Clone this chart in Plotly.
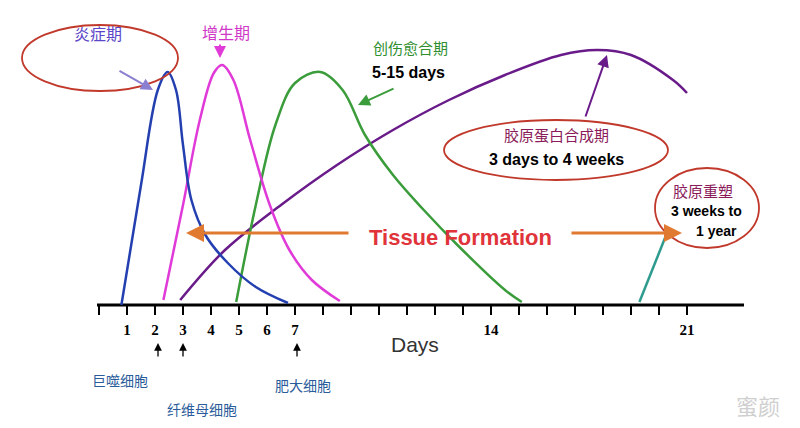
import plotly.graph_objects as go

PX = 28.0; X0 = 99; AX = 305
def dx(p): return (p - X0) / PX
def hy(p): return AX - p

tick_days = list(range(0, 22))
tick_labels = ["1", "2", "3", "4", "5", "6", "7", "14", "21"]
tick_label_days = [1, 2, 3, 4, 5, 6, 7, 14, 21]

# curves (day, height above axis)
blue_x = [0.8, 1.5, 2.1, 2.45, 2.75, 3.0, 3.3, 3.8, 4.6, 5.6, 6.75]
blue_y = [0, 120, 215, 233, 215, 160, 105, 70, 42, 18, 2]
mag_x = [2.3, 3.0, 3.6, 4.1, 4.4, 4.8, 5.4, 6.1, 6.8, 7.6, 8.6]
mag_y = [5, 100, 185, 232, 240, 225, 165, 100, 55, 25, 4]
grn_x = [4.9, 5.6, 6.3, 7.0, 7.9, 8.7, 9.5, 10.5, 11.6, 12.8, 14.5, 15.1]
grn_y = [3, 100, 180, 222, 233, 215, 170, 130, 95, 60, 15, 3]
pur_x = [2.9, 4.5, 6.5, 8.5, 10.5, 12.5, 14.5, 16.5, 17.8, 19.0, 20.5, 21.0]
pur_y = [5, 55, 100, 140, 175, 205, 230, 250, 255, 250, 225, 212]
teal_x = [19.3, 20.3]
teal_y = [3, 73]

fig = go.Figure()
fig.add_trace(go.Scatter(x=[dx(97), dx(744)], y=[0, 0], mode="lines",
                         line=dict(color="black", width=3), hoverinfo="skip"))
for d in tick_days:
    fig.add_shape(type="line", x0=d, x1=d, y0=0, y1=-10, line=dict(color="black", width=2))
fig.add_trace(go.Scatter(x=tick_label_days, y=[-26]*len(tick_labels), mode="text",
                         text=["<b>%s</b>" % t for t in tick_labels],
                         textfont=dict(family="Liberation Serif", size=15, color="black"), hoverinfo="skip"))

for xs, ys, c in [(teal_x, teal_y, "#2e9b8f"), (pur_x, pur_y, "#6a1b8a"), (grn_x, grn_y, "#3a9c3a"),
                  (mag_x, mag_y, "#e03ad8"), (blue_x, blue_y, "#2440b0")]:
    fig.add_trace(go.Scatter(x=xs, y=ys, mode="lines", line=dict(color=c, width=2.5, shape="spline"),
                             hoverinfo="skip"))

def ellipse(cx, cy, rx, ry):
    fig.add_shape(type="circle", x0=dx(cx-rx), x1=dx(cx+rx), y0=hy(cy+ry), y1=hy(cy-ry),
                  line=dict(color="#c0392b", width=1.8))
ellipse(100, 58, 78, 33)
ellipse(556, 150, 112, 30)
ellipse(707, 208, 52, 40)

def arrow(x1, y1, x2, y2, color, w=2):
    fig.add_annotation(x=dx(x2), y=hy(y2), ax=dx(x1), ay=hy(y1), xref="x", yref="y", axref="x", ayref="y",
                       text="", showarrow=True, arrowhead=2, arrowsize=1.2, arrowwidth=w, arrowcolor=color)
arrow(118, 70, 153, 90, "#8a7fd0")
arrow(220, 43, 220, 58, "#e03ad8")
arrow(395, 88, 358, 105, "#3a9c3a")
arrow(585, 118, 607, 55, "#6a1b8a")
arrow(158, 358, 158, 343, "black", 1.3)
arrow(183, 358, 183, 343, "black", 1.3)
arrow(297, 358, 297, 343, "black", 1.3)
arrow(350, 233, 186, 233, "#e07a30", 3)
arrow(570, 233, 682, 233, "#e07a30", 3)

def txt(x, y, s, size, color, bold=False, fam="Noto Sans CJK SC"):
    t = "<b>%s</b>" % s if bold else s
    fig.add_annotation(x=dx(x), y=hy(y), text=t, showarrow=False, xref="x", yref="y",
                       font=dict(size=size, color=color, family=fam))
txt(98, 33, "炎症期", 16, "#5b45c8")
txt(226, 32, "增生期", 16, "#d038c8")
txt(410, 47, "创伤愈合期", 15, "#2f8f2f")
txt(408, 72, "5-15 days", 16, "black", True, "Liberation Sans")
txt(556, 134, "胶原蛋白合成期", 15, "#8a1a5a")
txt(556, 159, "3 days to 4 weeks", 16, "black", True, "Liberation Sans")
txt(703, 190, "胶原重塑", 15, "#8a1a5a")
txt(706, 211, "3 weeks to", 14, "black", True, "Liberation Sans")
txt(716, 231, "1 year", 14, "black", True, "Liberation Sans")
txt(460, 237, "Tissue Formation", 22, "#e0333a", True, "Liberation Sans")
txt(415, 344, "Days", 21, "#333333", False, "Liberation Sans")
txt(120, 380, "巨噬细胞", 14, "#2a5b9a")
txt(202, 409, "纤维母细胞", 14, "#2a5b9a")
txt(303, 385, "肥大细胞", 14, "#2a5b9a")
txt(758, 405, "蜜颜", 22, "#cfcfcf")

fig.update_layout(width=800, height=428, margin=dict(l=0, r=0, t=0, b=0), showlegend=False,
                  plot_bgcolor="white", paper_bgcolor="white",
                  xaxis=dict(range=[dx(8), dx(808)], visible=False),
                  yaxis=dict(range=[hy(436), hy(8)], visible=False))
fig.write_html("out.html")
